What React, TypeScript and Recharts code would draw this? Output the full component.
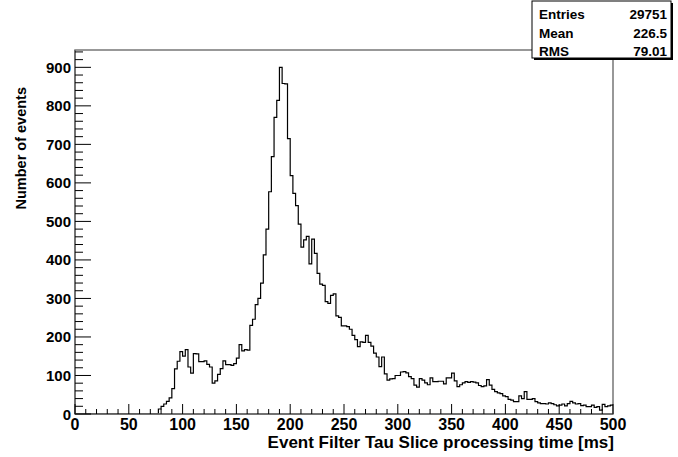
import React from 'react';
import { LineChart, Line, XAxis, YAxis, ReferenceArea } from 'recharts';

// Histogram: 2.5 ms bins, first non-empty bin starts at 77.5 ms
const binWidth = 2.5;
const firstFilledEdge = 77.5;
const counts = [
  13, 20, 26, 33, 42, 66, 117, 137, 162,
  150, 167, 122, 106, 157, 156, 136, 136, 138, 129,
  122, 80, 86, 103, 118, 138, 128, 128, 126, 131,
  145, 180, 164, 167, 166, 230, 246, 284, 300, 340,
  413, 480, 577, 668, 770, 814, 900, 858, 857, 715,
  619, 573, 541, 493, 433, 452, 461, 390, 454, 417,
  365, 337, 334, 292, 287, 308, 312, 255, 251, 229,
  229, 227, 220, 204, 193, 175, 187, 186, 204, 186,
  176, 158, 148, 123, 148, 104, 88, 91, 92, 100,
  100, 109, 110, 107, 97, 92, 75, 70, 92, 88,
  81, 76, 94, 84, 84, 85, 85, 78, 94, 94,
  106, 86, 71, 76, 81, 84, 82, 84, 83, 81,
  74, 71, 73, 89, 75, 64, 58, 55, 53, 47,
  45, 38, 36, 32, 32, 47, 40, 58, 38, 38,
  40, 32, 29, 27, 27, 26, 29, 27, 24, 21,
  23, 26, 21, 27, 33, 29, 26, 27, 22, 23,
  19, 19, 23, 17, 19, 10, 25, 19, 21, 23,
];

const xMin = 0;
const xMax = 500;
const yMax = 945;
const xMajorStep = 50;
const xMinorStep = 10;
const yMajorStep = 100;
const yMinorStep = 20;

const statsLabels = ['Entries', 'Mean', 'RMS'];
const statsValues = ['29751', '226.5', '79.01'];

const xTitle = 'Event Filter Tau Slice processing time [ms]';
const yTitle = 'Number of events';

const FONT = '"Liberation Sans", Arial, Helvetica, sans-serif';

const data: { t: number; n: number }[] = [{ t: xMin, n: 0 }];
counts.forEach((c, i) => data.push({ t: firstFilledEdge + i * binWidth, n: c }));
data.push({ t: firstFilledEdge + counts.length * binWidth, n: counts[counts.length - 1] });

const xTicks: number[] = [];
for (let v = xMin; v <= xMax; v += xMinorStep) xTicks.push(v);
const yTicks: number[] = [];
for (let v = 0; v <= yMax; v += yMinorStep) yTicks.push(v);

const XTick = (props: any) => {
  const { x, y, payload } = props;
  const v = payload.value;
  const major = v % xMajorStep === 0;
  return (
    <g>
      <line x1={x} x2={x} y1={y} y2={y - (major ? 10 : 5)} stroke="#000" strokeWidth={1} />
      {major && (
        <text x={x} y={y + 16} textAnchor="middle" fontFamily={FONT} fontWeight="bold" fontSize={16} fill="#000">
          {v}
        </text>
      )}
    </g>
  );
};

const YTick = (props: any) => {
  const { x, y, payload } = props;
  const v = payload.value;
  const major = v % yMajorStep === 0;
  return (
    <g>
      <line x1={x} x2={x + (major ? 16 : 8)} y1={y} y2={y} stroke="#000" strokeWidth={1} />
      {major && (
        <text x={x - 4} y={y + 5.5} textAnchor="end" fontFamily={FONT} fontWeight="bold" fontSize={15} fill="#000">
          {v}
        </text>
      )}
    </g>
  );
};

export default function App() {
  return (
    <div style={{ position: 'absolute', left: 0, top: 0, width: 678, height: 457, background: '#fff' }}>
      <LineChart width={678} height={457} data={data} margin={{ top: 50, right: 65, bottom: 0, left: 0 }}>
        <XAxis
          dataKey="t"
          type="number"
          domain={[xMin, xMax]}
          allowDataOverflow
          ticks={xTicks}
          interval={0}
          tickSize={0}
          tickMargin={0}
          height={43}
          axisLine={{ stroke: '#666', strokeWidth: 1.5 }}
          tick={<XTick />}
        />
        <YAxis
          type="number"
          domain={[0, yMax]}
          allowDataOverflow
          ticks={yTicks}
          interval={0}
          tickSize={0}
          tickMargin={0}
          width={75}
          axisLine={{ stroke: '#666', strokeWidth: 1.5 }}
          tick={<YTick />}
        />
        <ReferenceArea x1={xMin} x2={xMax} y1={0} y2={yMax} fill="none" stroke="#777" strokeWidth={1.5} ifOverflow="visible" />
        <Line
          type="stepAfter"
          dataKey="n"
          stroke="#000"
          strokeWidth={1.2}
          dot={false}
          activeDot={false}
          isAnimationActive={false}
        />
      </LineChart>
      <svg width={678} height={457} style={{ position: 'absolute', left: 0, top: 0, pointerEvents: 'none' }}>
        <text x={614} y={448} textAnchor="end" fontFamily={FONT} fontWeight="bold" fontSize={17} fill="#000">
          {xTitle}
        </text>
        <text
          transform="translate(26,87) rotate(-90)"
          textAnchor="end"
          fontFamily={FONT}
          fontWeight="bold"
          fontSize={14.5}
          fill="#000"
        >
          {yTitle}
        </text>
        <rect x={534} y={3} width={139} height={57} fill="#000" />
        <rect x={532} y={1} width={139} height={57} fill="#fff" stroke="#000" strokeWidth={1} />
        {statsLabels.map((l, i) => (
          <text key={l} x={539} y={19 + i * 18.5} fontFamily={FONT} fontWeight="bold" fontSize={13.5} fill="#000">
            {l}
          </text>
        ))}
        {statsValues.map((v, i) => (
          <text key={v} x={667} y={19 + i * 18.5} textAnchor="end" fontFamily={FONT} fontWeight="bold" fontSize={13.5} fill="#000">
            {v}
          </text>
        ))}
      </svg>
    </div>
  );
}
